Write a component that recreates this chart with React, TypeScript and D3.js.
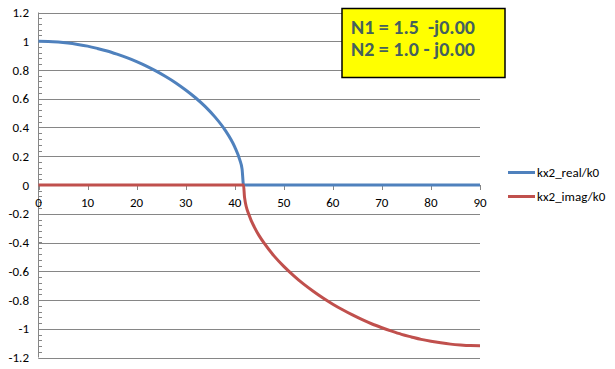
import React, { useEffect, useRef } from "react";
import * as d3 from "d3";

// incidence angle (deg) and normalised kx2 components
const angles = [0, 2, 4, 6, 8, 10, 12, 14, 16, 18, 20, 22, 24, 26, 28, 30, 32, 34, 36, 38, 40, 41, 41.5, 41.8,
  42, 43, 44, 45, 46, 48, 50, 52, 54, 56, 58, 60, 62, 64, 66, 68, 70, 72, 74, 76, 78, 80, 82, 84, 86, 88, 90];
const realPart = [1.0, 0.999, 0.995, 0.988, 0.978, 0.966, 0.95, 0.932, 0.91, 0.886, 0.858, 0.827, 0.792, 0.753,
  0.71, 0.661, 0.607, 0.545, 0.472, 0.384, 0.265, 0.178, 0.11, 0.0,
  0, 0, 0, 0, 0, 0, 0, 0, 0, 0, 0, 0, 0, 0, 0, 0, 0, 0, 0, 0, 0, 0, 0, 0, 0, 0, 0];
const imagPart = [0, 0, 0, 0, 0, 0, 0, 0, 0, 0, 0, 0, 0, 0, 0, 0, 0, 0, 0, 0, 0, 0, 0, 0,
  -0.086, -0.216, -0.293, -0.354, -0.405, -0.493, -0.566, -0.63, -0.688, -0.739, -0.786, -0.829, -0.868,
  -0.904, -0.937, -0.967, -0.993, -1.017, -1.039, -1.057, -1.074, -1.087, -1.098, -1.107, -1.113, -1.117, -1.118];
const seriesNames = ["kx2_real/k0", "kx2_imag/k0"];
const seriesColors = ["#4F81BD", "#C0504D"];
const xTicks = [0, 10, 20, 30, 40, 50, 60, 70, 80, 90];
const yTicks = [-1.2, -1, -0.8, -0.6, -0.4, -0.2, 0, 0.2, 0.4, 0.6, 0.8, 1, 1.2];
const noteLines = ["N1 = 1.5  -j0.00", "N2 = 1.0 - j0.00"];

const W = 615, H = 369;
const labelFont = "Carlito, 'Liberation Sans Narrow', 'Liberation Sans', sans-serif";

export default function App() {
  const ref = useRef<SVGSVGElement>(null);

  useEffect(() => {
    const svg = d3.select(ref.current);
    svg.selectAll("*").remove();

    const x = d3.scaleLinear().domain([0, 90]).range([38.5, 480]);
    const y = d3.scaleLinear().domain([-1.2, 1.2]).range([357.5, 12.5]);

    svg.append("rect").attr("width", W).attr("height", H).attr("fill", "white");

    // gridlines
    svg.append("g")
      .selectAll("line")
      .data(yTicks)
      .join("line")
      .attr("x1", x(0)).attr("x2", x(90))
      .attr("y1", d => Math.round(y(d)) + 0.5).attr("y2", d => Math.round(y(d)) + 0.5)
      .attr("stroke", "#868686");

    // y axis line + minor ticks
    const minor = d3.range(-1.2, 1.2001, 0.04);
    svg.append("line")
      .attr("x1", 38.5).attr("x2", 38.5).attr("y1", y(1.2)).attr("y2", y(-1.2))
      .attr("stroke", "#868686");
    svg.append("g")
      .selectAll("line")
      .data(minor)
      .join("line")
      .attr("x1", 38.5).attr("x2", 42)
      .attr("y1", d => Math.round(y(d)) + 0.5).attr("y2", d => Math.round(y(d)) + 0.5)
      .attr("stroke", "#868686");

    // x axis ticks
    svg.append("g")
      .selectAll("line")
      .data(xTicks)
      .join("line")
      .attr("x1", d => Math.round(x(d)) + 0.5).attr("x2", d => Math.round(x(d)) + 0.5)
      .attr("y1", y(0)).attr("y2", y(0) + 5)
      .attr("stroke", "#868686");

    // tick labels
    svg.append("g")
      .attr("font-family", labelFont)
      .attr("font-size", 13)
      .attr("fill", "#000")
      .attr("text-anchor", "end")
      .selectAll("text")
      .data(yTicks)
      .join("text")
      .attr("x", 29)
      .attr("y", d => y(d) + 4.5)
      .text(d => String(+d.toFixed(1)));

    svg.append("g")
      .attr("font-family", labelFont)
      .attr("font-size", 13)
      .attr("fill", "#000")
      .attr("text-anchor", "middle")
      .selectAll("text")
      .data(xTicks)
      .join("text")
      .attr("x", d => x(d))
      .attr("y", y(0) + 22)
      .text(d => d);

    // series
    const line = d3.line<number>()
      .x((_, i) => x(angles[i]))
      .y(d => y(d))
      .curve(d3.curveMonotoneX);

    [realPart, imagPart].forEach((vals, k) => {
      svg.append("path")
        .datum(vals)
        .attr("d", line)
        .attr("fill", "none")
        .attr("stroke", seriesColors[k])
        .attr("stroke-width", 3)
        .attr("stroke-linejoin", "round");
    });

    // annotation box
    svg.append("rect")
      .attr("x", 342).attr("y", 8.5).attr("width", 163).attr("height", 69)
      .attr("fill", "#FFFF00").attr("stroke", "#000").attr("stroke-width", 1.5);
    svg.append("g")
      .attr("font-family", "Carlito, 'Liberation Sans', Arial, sans-serif")
      .attr("font-weight", "bold")
      .attr("font-size", 20)
      .attr("fill", "#44605E")
      .selectAll("text")
      .data(noteLines)
      .join("text")
      .attr("x", 351)
      .attr("y", (_, i) => 34 + i * 22)
      .style("white-space", "pre")
      .text(d => d);

    // legend
    const leg = svg.append("g")
      .selectAll("g")
      .data(seriesNames)
      .join("g")
      .attr("transform", (_, i) => `translate(508, ${172.5 + i * 24})`);
    leg.append("line")
      .attr("x1", 0).attr("x2", 27)
      .attr("stroke", (_, i) => seriesColors[i])
      .attr("stroke-width", 3);
    leg.append("text")
      .attr("x", 29).attr("y", 4.5)
      .attr("font-family", labelFont)
      .attr("font-size", 13)
      .attr("fill", "#000")
      .text(d => d);
  }, []);

  return (
    <svg ref={ref} width={W} height={H}
      style={{ position: "absolute", left: 0, top: 0, display: "block" }} />
  );
}
